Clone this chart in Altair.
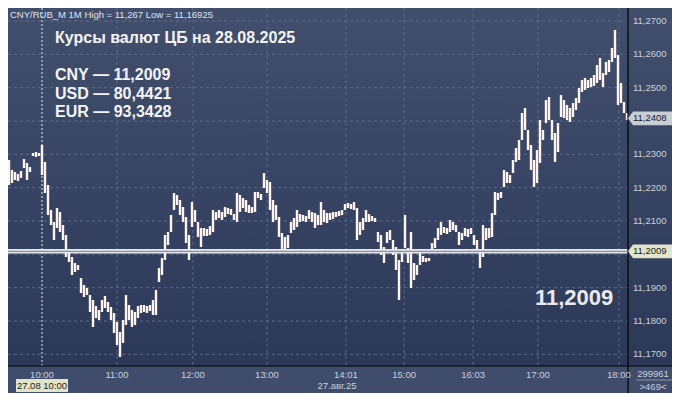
import altair as alt
import pandas as pd

# ---- data (1-minute OHLC bars, resampled to ~2.3 min) ----
highs = [11.2283, 11.2253, 11.2247, 11.2241, 11.2250, 11.2286, 11.2274, 11.2262, 11.2304, 11.2307,
         11.2304, 11.2328, 11.2277, 11.2208, 11.2133, 11.2097, 11.2139, 11.2127, 11.2088, 11.2058,
         11.2013, 11.1992, 11.1974, 11.1968, 11.1929, 11.1908, 11.1899, 11.1878, 11.1863, 11.1845,
         11.1833, 11.1863, 11.1875, 11.1857, 11.1842, 11.1824, 11.1797, 11.1767, 11.1803, 11.1878,
         11.1848, 11.1833, 11.1827, 11.1845, 11.1848, 11.1848, 11.1845, 11.1848, 11.1863, 11.1893,
         11.1959, 11.1989, 11.2058, 11.2067, 11.2118, 11.2184, 11.2178, 11.2163, 11.2142, 11.2112,
         11.2058, 11.2157, 11.2133, 11.2097, 11.2079, 11.2079, 11.2076, 11.2085, 11.2133, 11.2127,
         11.2133, 11.2127, 11.2142, 11.2139, 11.2136, 11.2121, 11.2184, 11.2178, 11.2169, 11.2163,
         11.2148, 11.2142, 11.2187, 11.2187, 11.2181, 11.2244, 11.2223, 11.2217, 11.2163, 11.2148,
         11.2112, 11.2064, 11.2052, 11.2058, 11.2097, 11.2109, 11.2133, 11.2121, 11.2118, 11.2115,
         11.2133, 11.2127, 11.2124, 11.2118, 11.2157, 11.2133, 11.2124, 11.2124, 11.2127, 11.2127,
         11.2130, 11.2133, 11.2151, 11.2154, 11.2151, 11.2157, 11.2139, 11.2097, 11.2109, 11.2133,
         11.2121, 11.2115, 11.2109, 11.2067, 11.2058, 11.2022, 11.2067, 11.2073, 11.2043, 11.2022,
         11.1983, 11.2013, 11.2118, 11.2019, 11.2067, 11.1974, 11.1968, 11.2007, 11.1995, 11.1989,
         11.1989, 11.2034, 11.2049, 11.2079, 11.2097, 11.2082, 11.2079, 11.2103, 11.2097, 11.2088,
         11.2067, 11.2064, 11.2079, 11.2076, 11.2079, 11.2058, 11.2043, 11.2013, 11.2088, 11.2079,
         11.2079, 11.2124, 11.2187, 11.2184, 11.2187, 11.2253, 11.2247, 11.2238, 11.2283, 11.2319,
         11.2343, 11.2424, 11.2439, 11.2373, 11.2328, 11.2283, 11.2313, 11.2403, 11.2373, 11.2463,
         11.2472, 11.2403, 11.2364, 11.2394, 11.2478, 11.2463, 11.2448, 11.2439, 11.2454, 11.2469,
         11.2499, 11.2523, 11.2529, 11.2523, 11.2529, 11.2538, 11.2568, 11.2589, 11.2544, 11.2577,
         11.2583, 11.2619, 11.2673, 11.2598, 11.2514, 11.2457, 11.2424]
lows = [11.2208, 11.2214, 11.2223, 11.2220, 11.2229, 11.2259, 11.2223, 11.2247, 11.2295, 11.2292,
        11.2295, 11.2238, 11.2184, 11.2118, 11.2088, 11.2043, 11.2079, 11.2067, 11.2043, 11.1992,
        11.1977, 11.1938, 11.1947, 11.1953, 11.1884, 11.1872, 11.1878, 11.1827, 11.1782, 11.1809,
        11.1803, 11.1827, 11.1839, 11.1827, 11.1803, 11.1764, 11.1728, 11.1692, 11.1734, 11.1788,
        11.1803, 11.1782, 11.1788, 11.1809, 11.1824, 11.1827, 11.1824, 11.1830, 11.1818, 11.1818,
        11.1917, 11.1938, 11.1983, 11.2028, 11.2067, 11.2133, 11.2148, 11.2118, 11.2097, 11.2034,
        11.1983, 11.2082, 11.2097, 11.2052, 11.2022, 11.2055, 11.2055, 11.2058, 11.2067, 11.2103,
        11.2109, 11.2103, 11.2112, 11.2121, 11.2118, 11.2103, 11.2097, 11.2127, 11.2139, 11.2127,
        11.2124, 11.2124, 11.2127, 11.2169, 11.2163, 11.2199, 11.2184, 11.2133, 11.2097, 11.2103,
        11.2052, 11.2007, 11.2013, 11.2019, 11.2064, 11.2073, 11.2082, 11.2097, 11.2100, 11.2097,
        11.2106, 11.2097, 11.2079, 11.2088, 11.2088, 11.2097, 11.2094, 11.2103, 11.2106, 11.2112,
        11.2115, 11.2118, 11.2133, 11.2139, 11.2136, 11.2133, 11.2043, 11.2058, 11.2073, 11.2097,
        11.2097, 11.2100, 11.2097, 11.2037, 11.1998, 11.1974, 11.2034, 11.2043, 11.1998, 11.1953,
        11.1863, 11.1977, 11.2019, 11.1974, 11.1899, 11.1923, 11.1938, 11.1968, 11.1977, 11.1977,
        11.1980, 11.2004, 11.2019, 11.2043, 11.2058, 11.2064, 11.2061, 11.2067, 11.2073, 11.2067,
        11.2028, 11.2043, 11.2055, 11.2052, 11.2061, 11.2028, 11.2013, 11.1959, 11.1992, 11.2043,
        11.2049, 11.2052, 11.2118, 11.2163, 11.2169, 11.2202, 11.2214, 11.2214, 11.2244, 11.2277,
        11.2283, 11.2343, 11.2373, 11.2313, 11.2253, 11.2202, 11.2214, 11.2274, 11.2343, 11.2394,
        11.2403, 11.2343, 11.2277, 11.2307, 11.2412, 11.2409, 11.2403, 11.2397, 11.2412, 11.2433,
        11.2454, 11.2487, 11.2493, 11.2499, 11.2502, 11.2505, 11.2514, 11.2523, 11.2502, 11.2538,
        11.2547, 11.2577, 11.2589, 11.2448, 11.2454, 11.2424, 11.2403]
bar_index = list(range(len(highs)))

price_ticks = [11.17, 11.18, 11.19, 11.20, 11.21, 11.22, 11.23, 11.24, 11.25, 11.26, 11.27]
price_labels = ["11,1700", "11,1800", "11,1900", "", "11,2100", "11,2200", "11,2300", "", "11,2500", "11,2600", "11,2700"]

time_tick_pos = [11, 36, 61.3, 86, 112.3, 131.7, 154.7, 176.3, 203.3]
time_tick_labels = ["10:00", "11:00", "12:00", "13:00", "14:01", "15:00", "16:03", "17:00", "18:00"]
session_start = [11]
session_label = ["27.08 10:00"]

cb_rate = [11.2009]
last_price = [11.2408]

header = "CNY/RUB_M 1M High = 11,267 Low = 11,16925"
title_lines = ["Курсы валют ЦБ на 28.08.2025"]
rate_lines = ["CNY — 11,2009", "USD — 80,4421", "EUR — 93,3428"]
big_label = "11,2009"
date_label = "27.авг.25"
corner_top = "299961"
corner_bottom = ">469<"

# ---- layout ----
W, H = 620, 358
TOTAL_W, TOTAL_H = 664, 385
FONT = "Liberation Sans"
SMALL = 9.5
LABEL_COLOR = "#c9d1dd"

xs = alt.Scale(domain=[-1 / 3, len(highs) - 1 + 1 / 3], nice=False, zero=False)
ys = alt.Scale(domain=[11.1665, 11.2739], nice=False, zero=False)

one = pd.DataFrame({"k": [0]})
bars = pd.DataFrame({"i": bar_index, "hi": highs, "lo": lows})
grid_df = pd.DataFrame({"p": price_ticks, "lab": price_labels})
time_df = pd.DataFrame({"pos": time_tick_pos, "lab": time_tick_labels})
grid_time_df = time_df[~time_df["pos"].isin(session_start)]
sess_df = pd.DataFrame({"pos": session_start, "lab": session_label})
cb_df = pd.DataFrame({"p": cb_rate, "lab": [f"{v:.4f}".replace(".", ",") for v in cb_rate]})
last_df = pd.DataFrame({"p": last_price, "lab": [f"{v:.4f}".replace(".", ",") for v in last_price]})
rates_df = pd.DataFrame({"t": rate_lines, "n": list(range(len(rate_lines)))})

bg = alt.Chart(one).mark_rect(
    fill=alt.Gradient(gradient="linear", x1=0, x2=0, y1=0, y2=1,
                      stops=[alt.GradientStop(color="#414f6d", offset=0),
                             alt.GradientStop(color="#2c3858", offset=1)])
).encode(x=alt.value(0), x2=alt.value(TOTAL_W), y=alt.value(0), y2=alt.value(H))

hgrid = alt.Chart(grid_df).mark_rule(color="#5d6c8b", strokeDash=[3, 3], strokeWidth=1).encode(
    y=alt.Y("p:Q", scale=ys, axis=None), x=alt.value(0), x2=alt.value(W))

vgrid = alt.Chart(grid_time_df).mark_rule(color="#5d6c8b", strokeDash=[3, 3], strokeWidth=1).encode(
    x=alt.X("pos:Q", scale=xs, axis=None), y=alt.value(0), y2=alt.value(H))

sess_line = alt.Chart(sess_df).mark_rule(color="#e8e8e8", strokeDash=[2, 2], strokeWidth=1).encode(
    x=alt.X("pos:Q", scale=xs, axis=None), y=alt.value(0), y2=alt.value(H))

bar_marks = alt.Chart(bars).mark_rule(color="#fff3ee", strokeWidth=2.4).encode(
    x=alt.X("i:Q", scale=xs, axis=None),
    y=alt.Y("hi:Q", scale=ys, axis=None),
    y2="lo:Q")

cb_thick = alt.Chart(cb_df).mark_rule(color="#e6e8ee", strokeWidth=4.5).encode(
    y=alt.Y("p:Q", scale=ys, axis=None), x=alt.value(0), x2=alt.value(W))
cb_thin = alt.Chart(cb_df).mark_rule(color="#8a90a4", strokeWidth=1.2).encode(
    y=alt.Y("p:Q", scale=ys, axis=None), x=alt.value(0), x2=alt.value(W))

# frame lines
vline = alt.Chart(one).mark_rule(color="#000000", strokeWidth=1.2).encode(
    x=alt.value(W), y=alt.value(0), y2=alt.value(TOTAL_H))
bottom_bg = alt.Chart(one).mark_rect(color="#3f4c6b").encode(
    x=alt.value(0), x2=alt.value(TOTAL_W), y=alt.value(H), y2=alt.value(TOTAL_H))
hline = alt.Chart(one).mark_rule(color="#000000", strokeWidth=1.2).encode(
    y=alt.value(H), x=alt.value(0), x2=alt.value(TOTAL_W))
corner_sep = alt.Chart(one).mark_rule(color="#8a95aa", strokeWidth=1).encode(
    y=alt.value(372), x=alt.value(628), x2=alt.value(TOTAL_W))

# y labels
ylabels = alt.Chart(grid_df).mark_text(align="left", baseline="middle", font=FONT,
                                       fontSize=SMALL, color=LABEL_COLOR).encode(
    y=alt.Y("p:Q", scale=ys, axis=None), x=alt.value(625), text="lab:N")

# x labels
xlabels = alt.Chart(time_df).mark_text(align="center", baseline="middle", font=FONT,
                                       fontSize=SMALL, color=LABEL_COLOR).encode(
    x=alt.X("pos:Q", scale=xs, axis=None), y=alt.value(366.5), text="lab:N")

sess_box = alt.Chart(sess_df).mark_point(
    shape="M-1,-0.25L1,-0.25L1,0.25L-1,0.25Z", size=2704, filled=True,
    color="#e3e3c7", opacity=1, strokeWidth=0).encode(
    x=alt.X("pos:Q", scale=xs, axis=None), y=alt.value(377.5))
sess_text = alt.Chart(sess_df).mark_text(align="center", baseline="middle", font=FONT,
                                         fontSize=SMALL, color="#1a1a1a").encode(
    x=alt.X("pos:Q", scale=xs, axis=None), y=alt.value(378), text="lab:N")

date_text = alt.Chart(one).mark_text(align="center", baseline="middle", font=FONT,
                                     fontSize=SMALL, color=LABEL_COLOR, text=date_label).encode(
    x=alt.value(329), y=alt.value(378))
corner1 = alt.Chart(one).mark_text(align="center", baseline="middle", font=FONT,
                                   fontSize=SMALL, color=LABEL_COLOR, text=corner_top).encode(
    x=alt.value(645), y=alt.value(366))
corner2 = alt.Chart(one).mark_text(align="center", baseline="middle", font=FONT,
                                   fontSize=SMALL, color=LABEL_COLOR, text=corner_bottom).encode(
    x=alt.value(645), y=alt.value(378.5))

# price boxes
box_shape = "M-1,0L-0.78,-0.3L1,-0.3L1,0.3L-0.78,0.3Z"
last_box = alt.Chart(last_df).mark_point(shape=box_shape, size=2116, filled=True,
                                         color="#c8cdd6", opacity=1, strokeWidth=0).encode(
    y=alt.Y("p:Q", scale=ys, axis=None), x=alt.value(643))
last_txt = alt.Chart(last_df).mark_text(align="left", baseline="middle", font=FONT,
                                        fontSize=SMALL, color="#1a1a1a").encode(
    y=alt.Y("p:Q", scale=ys, axis=None), x=alt.value(625), text="lab:N")
cb_box = alt.Chart(cb_df).mark_point(shape=box_shape, size=2116, filled=True,
                                     color="#e4e4cc", opacity=1, strokeWidth=0).encode(
    y=alt.Y("p:Q", scale=ys, axis=None), x=alt.value(643))
cb_txt = alt.Chart(cb_df).mark_text(align="left", baseline="middle", font=FONT,
                                    fontSize=SMALL, color="#1a1a1a").encode(
    y=alt.Y("p:Q", scale=ys, axis=None), x=alt.value(625), text="lab:N")

# annotations
head = alt.Chart(one).mark_text(align="left", baseline="alphabetic", font=FONT,
                                fontSize=SMALL, color="#dfe4ec", text=header).encode(
    x=alt.value(2), y=alt.value(10))
title = alt.Chart(one).mark_text(align="left", baseline="alphabetic", font=FONT,
                                 fontSize=16, fontWeight="bold", color="#f4f4f4",
                                 text=title_lines[0]).encode(x=alt.value(47), y=alt.value(35))
rates = alt.Chart(rates_df).mark_text(align="left", baseline="alphabetic", font=FONT,
                                      fontSize=16, fontWeight="bold", color="#f4f4f4").encode(
    x=alt.value(47),
    y=alt.Y("n:Q", scale=alt.Scale(domain=[0, 2], range=[72, 109]), axis=None),
    text="t:N")
big = alt.Chart(one).mark_text(align="left", baseline="alphabetic", font=FONT,
                               fontSize=22, fontWeight="bold", color="#e9eaf0",
                               text=big_label).encode(x=alt.value(527), y=alt.value(297))

chart = alt.layer(
    bg, hgrid, vgrid, sess_line, bar_marks, cb_thick, cb_thin,
    bottom_bg, vline, hline, corner_sep,
    ylabels, xlabels, sess_box, sess_text, date_text, corner1, corner2,
    last_box, last_txt, cb_box, cb_txt,
    head, title, rates, big
).resolve_scale(y="independent").properties(
    width=W, height=H,
    autosize=alt.AutoSizeParams(type="none"),
    padding={"left": 0, "top": 0, "right": TOTAL_W - W, "bottom": TOTAL_H - H},
    background="#3e4b6a",
).configure_view(strokeWidth=0)

chart.save("out.html", embed_options={"renderer": "svg", "actions": False})
